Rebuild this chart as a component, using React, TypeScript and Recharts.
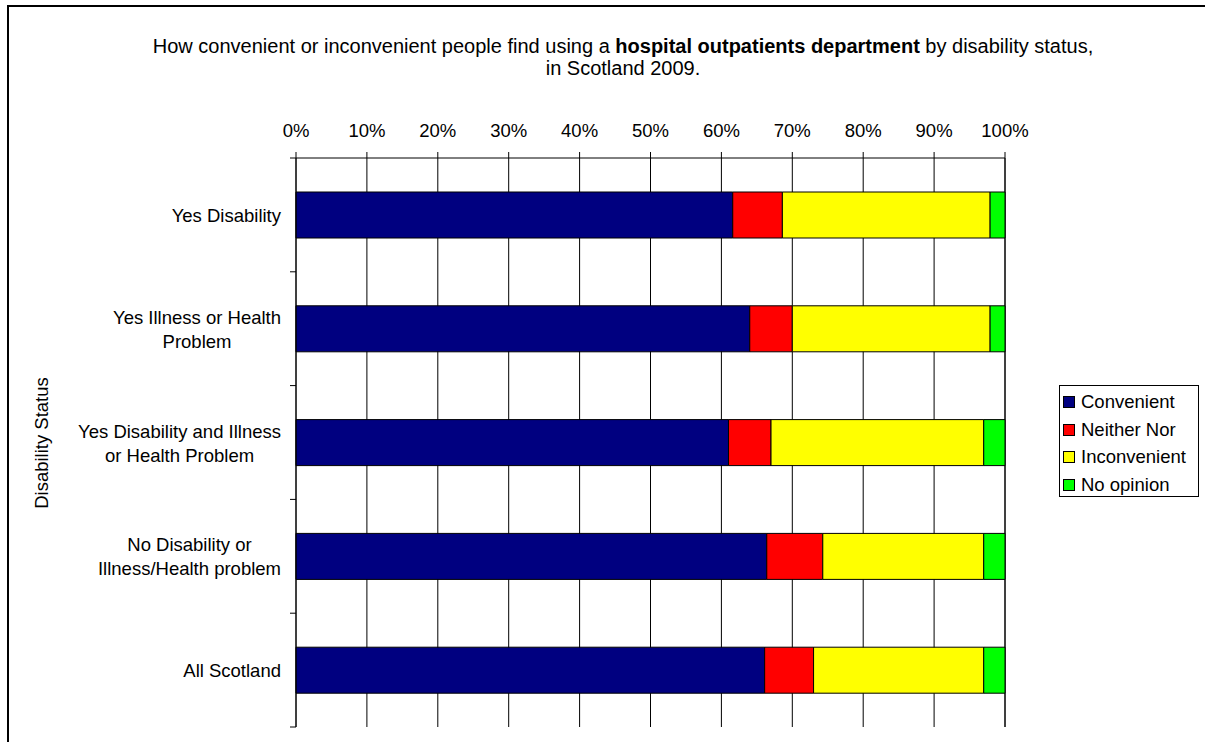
import React from "react";
import {
  BarChart,
  Bar,
  XAxis,
  YAxis,
  CartesianGrid,
  Legend,
} from "recharts";

const categories = [
  "Yes Disability",
  "Yes Illness or Health\nProblem",
  "Yes Disability and Illness\nor Health Problem",
  "No Disability or\nIllness/Health problem",
  "All Scotland",
];

const convenient = [61.6, 64.0, 61.0, 66.4, 66.1];
const neitherNor = [7.0, 6.0, 6.0, 7.9, 6.9];
const inconvenient = [29.3, 27.9, 30.0, 22.7, 24.0];
const noOpinion = [2.1, 2.1, 3.0, 3.0, 3.0];

const xTicks = [0, 10, 20, 30, 40, 50, 60, 70, 80, 90, 100];

const series = [
  { key: "convenient", name: "Convenient", color: "#000080" },
  { key: "neitherNor", name: "Neither Nor", color: "#FF0000" },
  { key: "inconvenient", name: "Inconvenient", color: "#FFFF00" },
  { key: "noOpinion", name: "No opinion", color: "#00FF00" },
];

const data = categories.map((name, i) => ({
  name,
  convenient: convenient[i],
  neitherNor: neitherNor[i],
  inconvenient: inconvenient[i],
  noOpinion: noOpinion[i],
}));

const FONT = "'Liberation Sans', Arial, sans-serif";
const FS = 18.5;
const LABEL_GAP = 15;

let ctx: CanvasRenderingContext2D | null = null;
function measure(s: string) {
  if (!ctx) ctx = document.createElement("canvas").getContext("2d");
  if (!ctx) return s.length * FS * 0.5;
  ctx.font = `${FS}px 'Liberation Sans'`;
  return ctx.measureText(s).width;
}

// category label, centred lines, plus the tick marks at band edges (Excel style)
function CategoryTick(props: any) {
  const { x, y, payload, index, visibleTicksCount } = props;
  const lines = String(payload.value).split("\n");
  const maxW = Math.max(...lines.map(measure));
  const cx = x - maxW / 2;
  const lh = 24;
  const start = y - ((lines.length - 1) * lh) / 2;
  const half = payload.offset || 0;
  const axisX = x + LABEL_GAP;
  return (
    <g>
      <line x1={axisX - 6} x2={axisX} y1={y - half} y2={y - half} stroke="#000" />
      {index === visibleTicksCount - 1 && (
        <line x1={axisX - 6} x2={axisX} y1={y + half} y2={y + half} stroke="#000" />
      )}
      <text
        textAnchor="middle"
        fontFamily={FONT}
        fontSize={FS}
        fill="#000"
        dominantBaseline="central"
      >
        {lines.map((l, i) => (
          <tspan key={i} x={cx} y={start + i * lh}>
            {l}
          </tspan>
        ))}
      </text>
    </g>
  );
}

function LegendBox() {
  return (
    <div
      style={{
        width: 140,
        height: 112,
        border: "1px solid #000",
        background: "#fff",
        fontFamily: FONT,
        fontSize: FS,
        boxSizing: "border-box",
        paddingTop: 2,
      }}
    >
      {series.map((s) => (
        <div
          key={s.key}
          style={{ display: "flex", alignItems: "center", height: 27.7 }}
        >
          <span
            style={{
              width: 10,
              height: 10,
              border: "1px solid #000",
              background: s.color,
              marginLeft: 3,
              marginRight: 6,
              display: "inline-block",
            }}
          />
          <span>{s.name}</span>
        </div>
      ))}
    </div>
  );
}

export default function App() {
  return (
    <div
      style={{
        position: "absolute",
        left: 0,
        top: 0,
        width: 1205,
        height: 742,
        background: "#fff",
        overflow: "hidden",
        fontFamily: FONT,
      }}
    >
      <div
        style={{
          position: "absolute",
          left: 7,
          top: 5,
          width: 1300,
          height: 800,
          borderTop: "2.5px solid #000",
          borderLeft: "2.5px solid #000",
        }}
      />
      <div
        style={{
          position: "absolute",
          left: 0,
          top: 35,
          width: 1246,
          textAlign: "center",
          fontSize: 20,
          lineHeight: "22px",
          color: "#000",
        }}
      >
        How convenient or inconvenient people find using a{" "}
        <b>hospital outpatients department</b> by disability status,
        <br />
        in Scotland 2009.
      </div>
      <div
        style={{
          position: "absolute",
          left: 42,
          top: 443,
          transform: "translate(-50%, -50%) rotate(-90deg)",
          whiteSpace: "nowrap",
          fontSize: FS,
          color: "#000",
        }}
      >
        Disability Status
      </div>
      <div style={{ position: "absolute", left: 0, top: 0 }}>
        <BarChart
          width={1205}
          height={742}
          data={data}
          layout="vertical"
          margin={{ top: 128, right: 200, bottom: 15, left: 0 }}
        >
          <CartesianGrid vertical horizontal={false} stroke="#000" />
          <XAxis
            type="number"
            domain={[0, 100]}
            ticks={xTicks}
            orientation="top"
            height={30}
            tickFormatter={(v) => `${v}%`}
            tick={{ fontSize: FS, fill: "#000", fontFamily: FONT }}
            tickSize={6}
            tickMargin={15}
            axisLine={{ stroke: "#000" }}
            tickLine={{ stroke: "#000" }}
            interval={0}
          />
          <YAxis
            type="category"
            dataKey="name"
            width={296}
            axisLine={{ stroke: "#000" }}
            tickLine={false}
            tickSize={0}
            tickMargin={LABEL_GAP}
            tick={<CategoryTick />}
            interval={0}
          />
          <Legend
            layout="vertical"
            align="center"
            verticalAlign="middle"
            wrapperStyle={{ left: 1059, top: 385, width: 140 }}
            content={() => <LegendBox />}
          />
          {series.map((s) => (
            <Bar
              key={s.key}
              dataKey={s.key}
              name={s.name}
              stackId="a"
              fill={s.color}
              stroke="#000"
              strokeWidth={1}
              barSize={46}
              isAnimationActive={false}
            />
          ))}
        </BarChart>
      </div>
    </div>
  );
}
